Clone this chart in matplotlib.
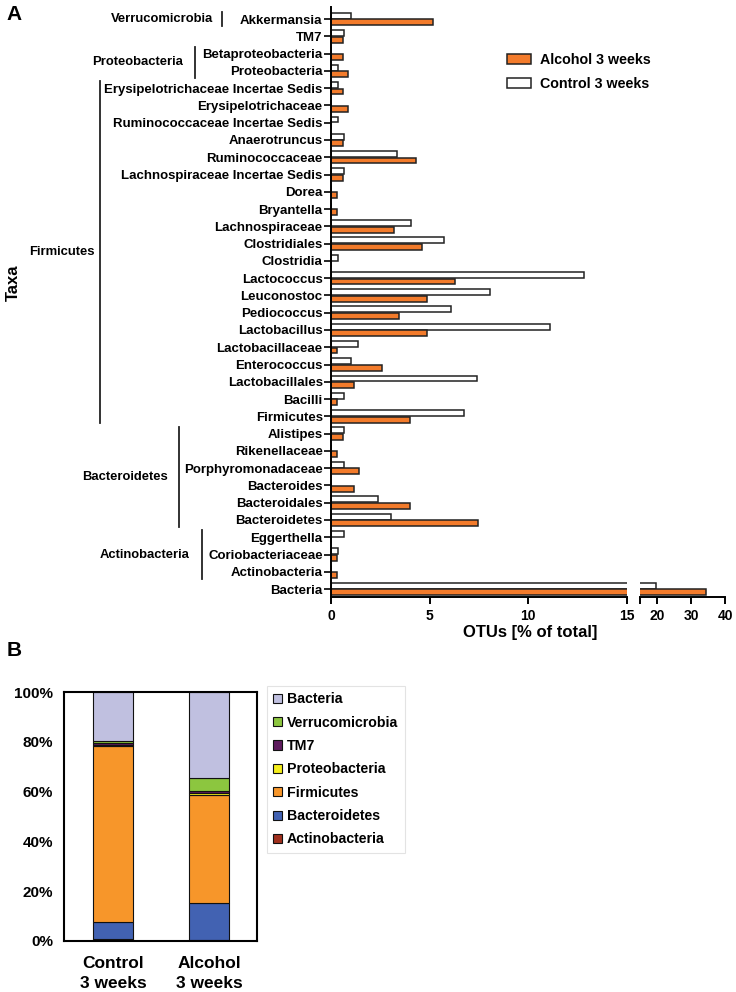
import matplotlib.pyplot as plt
from matplotlib.patches import Patch
from matplotlib.transforms import blended_transform_factory

plt.rcParams['font.family'] = ['Liberation Sans', 'DejaVu Sans']
plt.rcParams['font.weight'] = 'bold'

# ---- panel A data (bottom row first) ----
taxa = ["Bacteria", "Actinobacteria", "Coriobacteriaceae", "Eggerthella",
        "Bacteroidetes", "Bacteroidales", "Bacteroides", "Porphyromonadaceae",
        "Rikenellaceae", "Alistipes", "Firmicutes", "Bacilli", "Lactobacillales",
        "Enterococcus", "Lactobacillaceae", "Lactobacillus", "Pediococcus",
        "Leuconostoc", "Lactococcus", "Clostridia", "Clostridiales",
        "Lachnospiraceae", "Bryantella", "Dorea", "Lachnospiraceae Incertae Sedis",
        "Ruminococcaceae", "Anaerotruncus", "Ruminococcaceae Incertae Sedis",
        "Erysipelotrichaceae", "Erysipelotrichaceae Incertae Sedis",
        "Proteobacteria", "Betaproteobacteria", "TM7", "Akkermansia"]
control = [19.6, 0.0, 0.34, 0.68,
           3.05, 2.37, 0.0, 0.68,
           0.0, 0.68, 6.75, 0.68, 7.42,
           1.0, 1.36, 11.1, 6.07,
           8.08, 12.8, 0.34, 5.73,
           4.03, 0.0, 0.0, 0.68,
           3.36, 0.68, 0.34,
           0.0, 0.34,
           0.34, 0.0, 0.68, 1.0]
alcohol = [34.4, 0.29, 0.29, 0.0,
           7.47, 4.02, 1.15, 1.44,
           0.29, 0.6, 4.02, 0.29, 1.15,
           2.58, 0.29, 4.86, 3.44,
           4.86, 6.3, 0.0, 4.59,
           3.17, 0.29, 0.29, 0.6,
           4.32, 0.6, 0.0,
           0.86, 0.6,
           0.86, 0.6, 0.6, 5.17]

# phylum groups: (label, first taxon, last taxon, line x px, label right px)
groups = [("Verrucomicrobia", "Akkermansia", "Akkermansia", 222, 213),
          ("Proteobacteria", "Proteobacteria", "Betaproteobacteria", 195, 183),
          ("Firmicutes", "Firmicutes", "Erysipelotrichaceae Incertae Sedis", 100, 95),
          ("Bacteroidetes", "Bacteroidetes", "Alistipes", 179, 168),
          ("Actinobacteria", "Actinobacteria", "Eggerthella", 202, 190)]

# ---- panel B data (stack order bottom to top) ----
phyla = ["Actinobacteria", "Bacteroidetes", "Firmicutes", "Proteobacteria",
         "TM7", "Verrucomicrobia", "Bacteria"]
groups_b = ["Control\n3 weeks", "Alcohol\n3 weeks"]
comp_control = [0.9, 6.7, 70.6, 0.4, 0.9, 1.0, 19.5]
comp_alcohol = [0.6, 14.8, 43.1, 1.0, 0.8, 5.2, 34.5]
phyla_colors = ["#A0301E", "#4262B2", "#F7962A", "#F5EE1C",
                "#5E1B5E", "#8CC63F", "#C0C0E0"]

orange = "#F37B2B"
W, H = 736, 992
fig = plt.figure(figsize=(W / 100, H / 100), dpi=100)


def fx(px):
    return px / W


def fy(py):
    return 1 - py / H


ax1 = fig.add_axes([fx(331), fy(597), fx(627 - 331), (597 - 7) / H])
ax2 = fig.add_axes([fx(640), fy(597), fx(725 - 640), (597 - 7) / H], sharey=ax1)

ypos = list(range(len(taxa)))
bh = 0.34
for ax in (ax1, ax2):
    ax.barh([y + 0.19 for y in ypos], control, height=bh, color="white",
            edgecolor="#222222", linewidth=1.1, label="Control 3 weeks")
    ax.barh([y - 0.19 for y in ypos], alcohol, height=bh, color=orange,
            edgecolor="#222222", linewidth=1.1, label="Alcohol 3 weeks")
    for s in ("top", "right"):
        ax.spines[s].set_visible(False)
    ax.spines["bottom"].set_linewidth(1.4)
    ax.spines["left"].set_linewidth(1.4)
    ax.tick_params(axis="x", direction="out", length=5, width=1.4, labelsize=10)

ax1.set_xlim(0, 15)
ax1.set_xticks([0, 5, 10, 15])
ax1.set_ylim(-0.46, 33.7)
ax1.set_yticks(ypos)
ax1.set_yticklabels(taxa, fontsize=9.5, fontweight="bold")
ax1.tick_params(axis="y", direction="out", length=5, width=1.2, pad=1)

ax2.set_xlim(15, 40)
ax2.set_xticks([15, 20, 30, 40])
ax2.set_xticklabels(["", "20", "30", "40"])
ax2.spines["left"].set_visible(False)
ax2.tick_params(axis="y", left=False, labelleft=False)

fig.text(fx(530), fy(632), "OTUs [% of total]", ha="center", va="center",
         fontsize=12, fontweight="bold")
fig.text(fx(13), fy(283), "Taxa", ha="center", va="center", rotation=90,
         fontsize=12, fontweight="bold")

# phylum brackets
tr = blended_transform_factory(fig.transFigure, ax1.transData)
for name, lo, hi, lx, tx in groups:
    y0 = taxa.index(lo) - 0.4
    y1 = taxa.index(hi) + 0.4
    ax1.plot([fx(lx), fx(lx)], [y0, y1], color="#222222", lw=1.3,
             transform=tr, clip_on=False)
    ax1.text(fx(tx), (taxa.index(lo) + taxa.index(hi)) / 2, name, transform=tr,
             ha="right", va="center", fontsize=9.4, fontweight="bold")

handles = [Patch(facecolor=orange, edgecolor="#222222", linewidth=1.1),
           Patch(facecolor="white", edgecolor="#222222", linewidth=1.1)]
fig.legend(handles, ["Alcohol 3 weeks", "Control 3 weeks"], loc="upper left",
           bbox_to_anchor=(fx(507), fy(53)), frameon=False, fontsize=10.3,
           handlelength=1.7, handleheight=0.75, handletextpad=0.6,
           labelspacing=0.7, borderpad=0, borderaxespad=0)

# ---- panel B ----
axb = fig.add_axes([fx(64), fy(941), fx(257 - 64), (941 - 692) / H])
xb = [0, 1]
bottoms = [0, 0]
bars = []
for i, name in enumerate(phyla):
    vals = [comp_control[i], comp_alcohol[i]]
    b = axb.bar(xb, vals, width=0.41, bottom=bottoms, color=phyla_colors[i],
                edgecolor="#111111", linewidth=0.8, label=name)
    bars.append(b)
    bottoms = [bottoms[0] + vals[0], bottoms[1] + vals[1]]

axb.set_xlim(-0.51, 1.5)
axb.set_ylim(0, 100)
axb.set_yticks([0, 20, 40, 60, 80, 100])
axb.set_yticklabels(["0%", "20%", "40%", "60%", "80%", "100%"])
axb.set_xticks(xb)
axb.set_xticklabels(groups_b, fontsize=12.5, fontweight="bold", linespacing=1.4)
axb.tick_params(axis="y", length=0, labelsize=11, pad=8)
axb.tick_params(axis="x", length=0, pad=11)
for s in axb.spines.values():
    s.set_linewidth(1.5)

leg = axb.legend(bars[::-1], phyla[::-1], loc="upper left",
                 bbox_to_anchor=(fx(267), fy(686)), bbox_transform=fig.transFigure,
                 fontsize=10.2, fancybox=False, edgecolor="#DDDDDD",
                 handlelength=0.62, handleheight=0.62, handletextpad=0.35,
                 labelspacing=0.66, borderpad=0.45, borderaxespad=0)
leg.get_frame().set_linewidth(0.8)

fig.text(fx(14), fy(14), "A", ha="center", va="center", fontsize=15, fontweight="bold")
fig.text(fx(14), fy(650), "B", ha="center", va="center", fontsize=15, fontweight="bold")

fig.savefig("out.png", dpi=100)
